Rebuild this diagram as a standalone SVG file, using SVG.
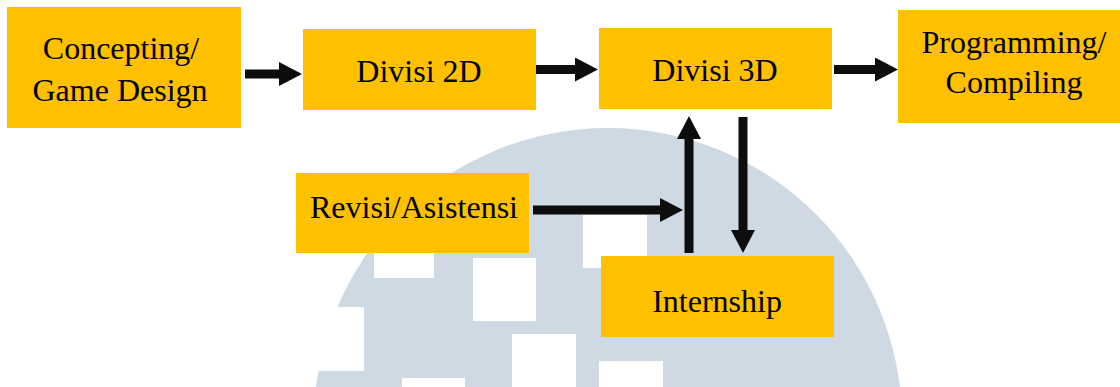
<svg xmlns="http://www.w3.org/2000/svg" width="1120" height="387" viewBox="0 0 1120 387">
  <defs>
    <style>
      .box { fill: #FFC000; }
      .lbl { font-family: "Liberation Serif", "Times New Roman", serif; font-size: 32px; fill: #000; text-anchor: middle; }
      .conn { stroke: #0d0d0d; stroke-width: 9; fill: none; }
      .wm { fill: #CED9E3; }
      .cut { fill: #FFFFFF; }
    </style>
    <marker id="ah" markerUnits="userSpaceOnUse" markerWidth="23" markerHeight="24" refX="3" refY="12" orient="auto">
      <path d="M0,0 L23,12 L0,24 Z" fill="#0d0d0d"/>
    </marker>
  </defs>
  <rect width="1120" height="387" fill="#FFFFFF"/>

  <g id="watermark">
    <circle class="wm" cx="608" cy="422" r="294"/>
    <rect class="cut" x="300" y="307" width="64" height="64"/>
    <rect class="cut" x="374" y="240" width="60" height="38"/>
    <rect class="cut" x="473" y="258" width="63" height="63"/>
    <rect class="cut" x="583" y="215" width="64" height="53"/>
    <rect class="cut" x="512" y="334" width="64" height="60"/>
    <rect class="cut" x="599" y="361" width="64" height="30"/>
    <rect class="cut" x="402" y="378" width="63" height="15"/>
  </g>

  <g id="connectors">
    <line class="conn" x1="245" y1="74" x2="282" y2="74" marker-end="url(#ah)"/>
    <line class="conn" x1="535" y1="69.5" x2="578" y2="69.5" marker-end="url(#ah)"/>
    <line class="conn" x1="834" y1="69.5" x2="878" y2="69.5" marker-end="url(#ah)"/>
    <line class="conn" x1="533" y1="210" x2="663" y2="210" marker-end="url(#ah)"/>
    <line class="conn" x1="689" y1="253" x2="689" y2="136" marker-end="url(#ah)"/>
    <line class="conn" x1="743" y1="117" x2="743" y2="233" marker-end="url(#ah)"/>
  </g>

  <g id="node-concepting">
    <rect class="box" x="7" y="7" width="234" height="121"/>
    <text class="lbl" x="121" y="59">Concepting/</text>
    <text class="lbl" x="120" y="101">Game Design</text>
  </g>
  <g id="node-divisi2d">
    <rect class="box" x="303" y="29" width="233" height="81"/>
    <text class="lbl" x="419" y="82">Divisi 2D</text>
  </g>
  <g id="node-divisi3d">
    <rect class="box" x="599" y="28" width="233" height="81"/>
    <text class="lbl" x="715" y="81">Divisi 3D</text>
  </g>
  <g id="node-programming">
    <rect class="box" x="898" y="10" width="222" height="113"/>
    <text class="lbl" x="1014" y="53">Programming/</text>
    <text class="lbl" x="1014" y="93">Compiling</text>
  </g>
  <g id="node-revisi">
    <rect class="box" x="296" y="173" width="233" height="80"/>
    <text class="lbl" x="414" y="218">Revisi/Asistensi</text>
  </g>
  <g id="node-internship">
    <rect class="box" x="601" y="256" width="233" height="81"/>
    <text class="lbl" x="717" y="312">Internship</text>
  </g>
</svg>
